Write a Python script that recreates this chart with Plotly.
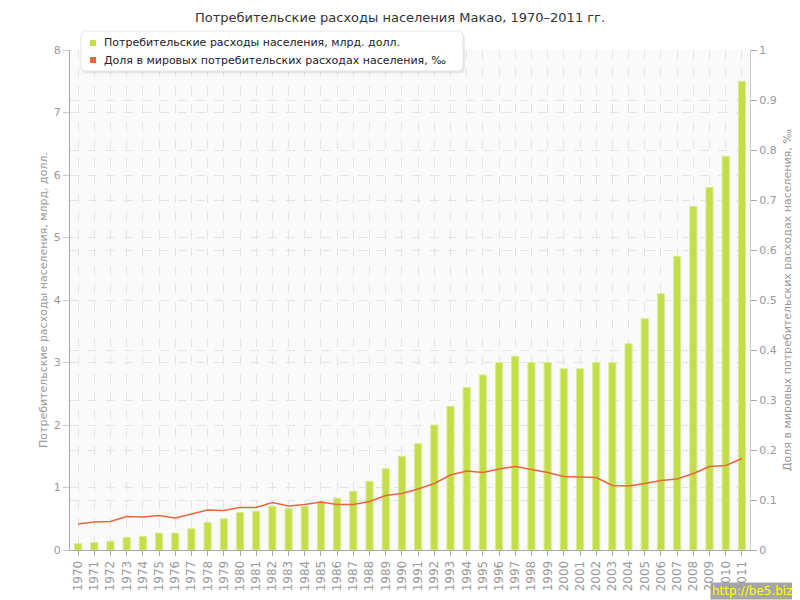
import plotly.graph_objects as go

years = [str(y) for y in range(1970, 2012)]
spending = [0.1, 0.12, 0.14, 0.2, 0.22, 0.27, 0.27, 0.34, 0.44, 0.5,
            0.6, 0.62, 0.7, 0.66, 0.7, 0.77, 0.83, 0.94, 1.1, 1.3,
            1.5, 1.7, 2.0, 2.3, 2.6, 2.8, 3.0, 3.1, 3.0, 3.0,
            2.9, 2.9, 3.0, 3.0, 3.3, 3.7, 4.1, 4.7, 5.5, 5.8,
            6.3, 7.5]
share = [0.052, 0.056, 0.057, 0.067, 0.066, 0.069, 0.064, 0.072, 0.080, 0.079,
         0.085, 0.085, 0.095, 0.088, 0.091, 0.096, 0.091, 0.091, 0.097, 0.109,
         0.113, 0.122, 0.133, 0.150, 0.158, 0.155, 0.162, 0.167, 0.161, 0.155,
         0.147, 0.146, 0.145, 0.129, 0.128, 0.133, 0.139, 0.142, 0.153, 0.167,
         0.169, 0.183]

name_bar = "Потребительские расходы населения, млрд. долл."
name_line = "Доля в мировых потребительских расходах населения, ‰"
title = "Потребительские расходы населения Макао, 1970–2011 гг."
watermark = "http://be5.biz/"

GREEN = "#c3de48"
ORANGE = "#e8673a"
GRID = "#e4e4e4"
TICK = "#999999"
FONT = "DejaVu Sans, Verdana, sans-serif"

# the page has an 8px body margin, so the figure is drawn 8px right/down
W, H = 792, 592
ML, MR, MT, MB = 62, 50, 42, 50
PW, PH = W - ML - MR, H - MT - MB


def px(x_page):
    return (x_page - 8 - ML) / PW


def py(y_page):
    return (H - MB - (y_page - 8)) / PH


def rounded_rect(x0, y0, x1, y1, r):
    # page pixel coords -> paper coords path
    X0, X1 = px(x0), px(x1)
    Y0, Y1 = py(y0), py(y1)
    rx, ry = r / PW, r / PH
    return (f"M{X0 + rx},{Y0} L{X1 - rx},{Y0} Q{X1},{Y0} {X1},{Y0 - ry} "
            f"L{X1},{Y1 + ry} Q{X1},{Y1} {X1 - rx},{Y1} L{X0 + rx},{Y1} "
            f"Q{X0},{Y1} {X0},{Y1 + ry} L{X0},{Y0 - ry} Q{X0},{Y0} {X0 + rx},{Y0} Z")


fig = go.Figure()
fig.add_trace(go.Bar(x=years, y=spending, name=name_bar, width=0.44,
                     marker=dict(color=GREEN, line=dict(color="#d9ec8f", width=1)),
                     showlegend=False))
fig.add_trace(go.Scatter(x=years, y=share, name=name_line, yaxis="y2", mode="lines",
                         line=dict(color=ORANGE, width=1.5), showlegend=False))

shapes = [
    # legend shadow and box
    dict(type="path", xref="paper", yref="paper", layer="above",
         path=rounded_rect(82, 33, 465, 73.5, 5), fillcolor="rgba(0,0,0,0.07)",
         line=dict(width=0)),
    dict(type="path", xref="paper", yref="paper", layer="above",
         path=rounded_rect(81, 31, 463, 71, 5), fillcolor="white",
         line=dict(color="#e4e4e4", width=1)),
    dict(type="rect", xref="paper", yref="paper", layer="above",
         x0=px(90), x1=px(96), y0=py(40), y1=py(46), fillcolor=GREEN, line=dict(width=0)),
    dict(type="rect", xref="paper", yref="paper", layer="above",
         x0=px(90), x1=px(96), y0=py(57), y1=py(63), fillcolor=ORANGE, line=dict(width=0)),
]

annotations = [
    dict(text=name_bar, xref="paper", yref="paper", x=px(102), y=py(43),
         xanchor="left", yanchor="middle", showarrow=False,
         font=dict(family=FONT, size=11, color="#222222")),
    dict(text=name_line, xref="paper", yref="paper", x=px(102), y=py(60),
         xanchor="left", yanchor="middle", showarrow=False,
         font=dict(family=FONT, size=11, color="#222222")),
    dict(text=name_bar, xref="paper", yref="paper", x=px(43), y=0.5,
         xanchor="center", yanchor="middle", textangle=-90, showarrow=False,
         font=dict(family=FONT, size=11, color=TICK)),
    dict(text=name_line, xref="paper", yref="paper", x=px(787), y=0.5,
         xanchor="center", yanchor="middle", textangle=-90, showarrow=False,
         font=dict(family=FONT, size=11, color=TICK)),
    dict(text=watermark, xref="paper", yref="paper", x=px(799), y=py(600),
         xanchor="right", yanchor="bottom", showarrow=False,
         bgcolor="rgba(150,150,150,0.85)", borderpad=1,
         font=dict(family=FONT, size=12, color="#ffff00")),
]

fig.update_layout(
    width=W, height=H,
    margin=dict(l=ML, r=MR, t=MT, b=MB, autoexpand=False),
    paper_bgcolor="white", plot_bgcolor="#fafafa",
    font=dict(family=FONT, size=11, color=TICK),
    showlegend=False,
    title=dict(text=title, x=(400 - 8) / W, xanchor="center", y=1 - 9 / H, yanchor="middle",
               yref="container", font=dict(family=FONT, size=13, color="#333333")),
    xaxis=dict(type="category", showgrid=True, gridcolor=GRID, griddash="dash",
               gridwidth=1, tickangle=-90, ticks="outside", ticklen=5,
               tickcolor="#aaaaaa", showline=True, linecolor="#aaaaaa",
               tickfont=dict(size=12, color=TICK), range=[-0.5, 41.5], zeroline=False,
               automargin=False),
    yaxis=dict(range=[0, 8], dtick=1, showgrid=True, gridcolor=GRID, griddash="dash",
               ticks="outside", ticklen=6, tickcolor="#cccccc", showline=True,
               linecolor="#aaaaaa", zeroline=False, tickfont=dict(size=11, color=TICK),
               automargin=False),
    yaxis2=dict(range=[0, 1], dtick=0.1, overlaying="y", side="right", showgrid=True,
                gridcolor=GRID, griddash="dash", ticks="outside", ticklen=6,
                tickcolor="#aaaaaa", showline=True, linecolor="#cccccc", zeroline=False,
                tickfont=dict(size=11, color=TICK), automargin=False),
    shapes=shapes,
    annotations=annotations,
)

fig.write_html("out.html")
